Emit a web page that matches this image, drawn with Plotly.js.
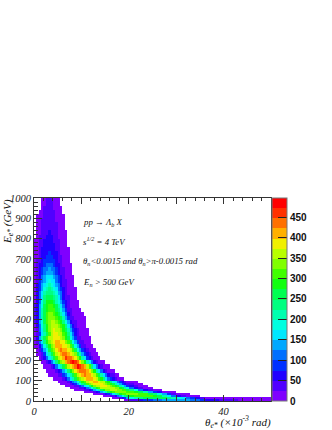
<!DOCTYPE html>
<html><head><meta charset="utf-8">
<script src="https://cdn.plot.ly/plotly-3.0.1.min.js"></script>
<style>html,body{margin:0;padding:0;background:#fff}#c{width:332px;height:430px}</style>
</head><body><div id="c"></div>
<script>
// bin edges of the histogram
const xEdges = [0,.5,1,1.5,2,2.5,3,3.5,4,4.5,5,5.5,6,6.5,7,7.5,8,8.5,9,9.5,10,10.5,11,11.5,12,12.5,13,13.5,14,14.5,15,15.5,16,16.5,17,17.5,18,18.5,19,19.5,20,21,22,23,24,25,26,27,28,29,30,31,32,33,34,35,36,37,38,39,40,41,42,43,44,45,46,47,48,49,50];
const yEdges = [0,10,20,30,40,50,60,70,80,90,100,120,140,160,180,200,220,240,260,280,300,320,340,360,380,400,420,440,460,480,500,520,540,560,580,600,620,640,660,680,700,720,740,760,780,800,820,840,860,880,900,920,940,960,980,1000];
// each row, bottom to top: first column index, then counts
const histRows = [
[38,6,14,30,48,65,80,95,110,120,130,135,140,145,140,130,115,100,85,72,60,50,42,36,30,26,22,20,18,16,14,12,12],
[33,5,10,20,36,60,95,140,185,215,235,250,260,265,265,255,240,215,185,150,115,80,52,30,16,8,5,4,4,4,3,4,3,3,3,3,3,3],
[29,5,10,18,30,48,72,105,145,190,230,270,295,305,310,305,300,285,255,215,165,115,72,40,20,8,4],
[25,4,8,14,24,38,58,86,120,160,200,240,275,300,320,325,330,330,320,300,270,230,180,125,80,45,22,9,4],
[21,4,8,14,24,40,62,92,130,170,215,255,290,315,330,340,345,345,335,320,310,290,255,205,145,90,50,24,10,4],
[17,4,6,10,16,26,42,64,95,130,170,215,260,295,325,345,355,360,350,345,335,320,300,270,230,180,120,70,34,14,6],
[15,4,6,10,18,30,48,72,105,145,190,235,280,320,350,365,372,372,365,355,345,325,295,260,220,175,120,70,35,15,6],
[13,4,6,10,18,30,48,75,110,150,195,240,285,325,350,368,380,385,375,362,345,320,295,260,220,175,135,95,60,30,14,6],
[11,3,6,12,22,38,62,95,135,180,225,270,310,340,365,385,395,390,380,365,345,322,295,258,215,170,125,90,60,40,26,14,8],
[10,4,8,14,24,40,66,100,140,185,235,280,320,350,375,395,412,402,395,372,350,320,285,245,195,150,110,75,50,32,20,12,6],
[8,3,6,12,22,40,68,105,150,205,255,300,335,365,390,410,418,402,385,355,320,275,225,170,120,80,50,32,20,12,8],
[6,3,5,8,14,26,46,76,116,165,220,270,315,350,380,405,428,418,410,385,355,315,270,215,160,105,68,42,26,16,10],
[5,3,5,10,18,32,55,90,135,190,240,290,335,375,408,425,445,430,405,378,335,280,220,160,105,65,40,24,14,9],
[4,5,10,20,36,62,100,150,205,260,310,355,395,420,445,478,455,440,408,360,300,230,165,105,65,40,24,14,9],
[3,6,16,36,70,115,170,232,285,335,372,405,432,462,485,462,430,392,345,285,218,155,100,62,38,24,15,9],
[2,10,26,58,105,160,218,272,322,362,392,420,455,438,425,418,382,338,282,215,150,95,58,36,22,14,9],
[1,6,18,46,92,150,205,262,312,352,382,405,438,425,410,395,368,325,272,205,145,90,55,34,20,13,8],
[1,12,34,78,135,195,255,305,345,378,405,425,408,412,392,360,315,260,192,130,82,50,30,20,13,8],
[0,4,22,60,120,185,245,295,338,372,398,420,402,395,382,352,308,255,188,130,80,48,30,20,13,9],
[0,8,40,100,165,232,285,332,365,388,405,412,392,375,345,305,255,188,130,80,48,30,20,14,9],
[0,20,70,145,218,272,318,350,372,388,395,380,360,332,295,250,188,130,78,46,28,20,14,9,5],
[0,12,40,95,162,222,272,315,352,378,385,372,352,320,280,230,170,110,65,38,24,15,9,5],
[0,14,48,105,172,232,285,325,358,375,372,360,332,298,258,202,140,85,50,30,20,12,8,4],
[0,20,55,115,182,245,290,328,355,365,358,338,310,278,232,170,105,62,38,24,15,10,6],
[0,28,62,125,198,260,302,335,352,352,338,315,285,245,190,125,70,44,28,18,12,8,4],
[0,30,66,130,208,265,308,335,345,335,315,288,250,205,140,80,48,30,20,14,10,6,3],
[0,30,68,130,208,265,305,328,332,318,295,262,218,160,100,58,36,24,16,10,6,3],
[0,28,70,130,205,258,298,316,320,302,272,232,185,125,75,44,28,18,12,8,5],
[0,26,72,128,195,250,288,302,302,282,250,205,155,100,60,36,22,14,9,6],
[0,24,72,124,185,240,275,290,280,255,220,180,135,85,52,32,18,11,7,4],
[0,22,68,118,172,225,255,270,260,235,200,160,115,72,45,27,16,9,6],
[0,20,64,108,158,205,235,245,235,210,178,140,100,62,40,24,14,8,5],
[0,18,58,98,144,185,212,225,212,190,158,122,86,54,34,22,12,7,4],
[0,16,52,90,130,166,192,205,192,170,140,106,74,48,30,20,10,6],
[0,15,46,80,116,148,172,182,172,150,122,92,64,42,26,16,9,5],
[0,14,42,72,104,132,152,162,152,132,108,80,56,36,22,14,8,4],
[0,12,38,64,92,118,134,144,134,118,94,70,48,32,18,11,6],
[0,11,34,58,82,104,118,126,118,102,82,60,42,28,16,10,5],
[0,10,30,52,74,92,104,110,104,90,72,52,36,24,14,8,4],
[0,9,26,46,66,80,92,96,92,78,62,46,32,20,12,7],
[0,8,24,42,60,72,82,86,82,70,56,40,28,18,10,6],
[0,7,22,38,54,66,74,78,74,64,50,36,24,16,9,5],
[0,6,20,34,50,60,68,70,66,58,44,32,22,14,8,4],
[0,5,18,30,44,54,62,64,60,52,40,28,20,12,7],
[0,5,16,28,40,50,56,58,56,48,36,26,18,10,6],
[1,14,26,36,46,52,54,50,44,34,24,16,9,5],
[1,12,24,34,42,48,50,46,40,30,22,14,8,4],
[1,10,20,30,40,44,46,42,36,28,20,12,7],
[1,8,18,28,36,42,42,40,34,26,18,10,5],
[1,6,16,26,34,38,40,38,30,24,14,8,4],
[1,4,14,24,30,36,38,34,28,20,12,6,4],
[2,12,20,28,34,36,32,26,18,10,5],
[3,18,26,30,34,30,24,16,8,4],
[3,14,24,30,32,30,22,14,8],
[3,10,18,26,28,26,20,12,6]
];
const bandColors = ['#7f00ff','#5000ff','#2000ff','#0030ff','#0070ff','#00a8ff','#00e8ff','#00ffe0','#00ffb0','#00ff80','#00ff50','#10ff10','#40ff00','#80ff00','#b8ff00','#f0f000','#ffb000','#ff7000','#ff3000','#ff0000'];
const xTickVals = [0,10,20,30,40,50];
const xTickText = ['0','','20','','40',''];
const textLines = ['pp → Λ<sub>b</sub> X','s<sup>1/2</sup> = 4 TeV','θ<sub>n</sub>&lt;0.0015 and θ<sub>n</sub>&gt;π-0.0015 rad','E<sub>n</sub> &gt; 500 GeV'];

const nCols = xEdges.length-1;
const z = histRows.map(r=>{
  const row = new Array(nCols).fill(null);
  r.slice(1).forEach((v,i)=>{ if(r[0]+i<nCols) row[r[0]+i]=v; });
  return row;
});
const colorscale=[];
bandColors.forEach((c,i)=>{colorscale.push([i/20,c]);colorscale.push([(i+1)/20,c]);});

const L=34,R=271,T=197.5,B=401,W=332,H=430;
const serif={family:'"Liberation Serif",serif',style:'italic',color:'#111'};
const px=v=>(v-L)/(R-L), py=v=>(B-v)/(B-T);
const annotations=[];
[222,241.5,261.5,282].forEach((y,i)=>annotations.push({xref:'paper',yref:'paper',x:px(81),y:py(y),xanchor:'left',yanchor:'middle',showarrow:false,text:textLines[i],font:Object.assign({size:8.8},serif)}));
annotations.push({xref:'paper',yref:'paper',x:px(273),y:py(422.5),xanchor:'right',yanchor:'middle',showarrow:false,text:'θ<sub>e*</sub> (×10<sup>-3</sup> rad)',font:Object.assign({size:11},serif)});
annotations.push({xref:'paper',yref:'paper',x:px(8),y:py(197),xanchor:'center',yanchor:'top',textangle:-90,showarrow:false,text:'E<sub>e*</sub> (GeV)',font:Object.assign({size:11},serif)});

Plotly.newPlot('c',[{
  type:'heatmap',x:xEdges,y:yEdges,z:z,zmin:0,zmax:497,colorscale:colorscale,zsmooth:false,hoverongaps:false,
  colorbar:{x:1.004,xanchor:'left',y:0.5,yanchor:'middle',len:1,lenmode:'fraction',thickness:15,thicknessmode:'pixels',xpad:0,ypad:0,
    outlinecolor:'#777',outlinewidth:1,ticks:'inside',ticklen:9,tickcolor:'#222',tickwidth:1,tick0:0,dtick:50,
    tickfont:{family:'"Liberation Sans",sans-serif',size:10,color:'#111',weight:'bold'}}
}],{
  width:W,height:H,margin:{l:L,r:W-R,t:T,b:H-B,pad:0},paper_bgcolor:'#fff',plot_bgcolor:'#fff',showlegend:false,
  xaxis:{range:[0,50],showgrid:false,zeroline:false,showline:true,linecolor:'#333',linewidth:1,mirror:'allticks',ticks:'inside',ticklen:6,tickcolor:'#333',tickmode:'array',tickvals:xTickVals,ticktext:xTickText,
    tickfont:{family:'"Liberation Serif",serif',style:'italic',size:10.5,color:'#222'},tickangle:0,minor:{ticks:'inside',dtick:2,ticklen:3,tickcolor:'#333',showgrid:false}},
  yaxis:{range:[0,1000],showgrid:false,zeroline:false,showline:true,linecolor:'#333',linewidth:1,mirror:true,ticks:'inside',ticklen:8,tickcolor:'#333',dtick:100,tick0:0,
    tickfont:{family:'"Liberation Serif",serif',style:'italic',size:10.5,color:'#222'},minor:{ticks:'inside',dtick:20,ticklen:4,tickcolor:'#333',showgrid:false}},
  annotations:annotations
},{displayModeBar:false,staticPlot:true});
</script></body></html>
